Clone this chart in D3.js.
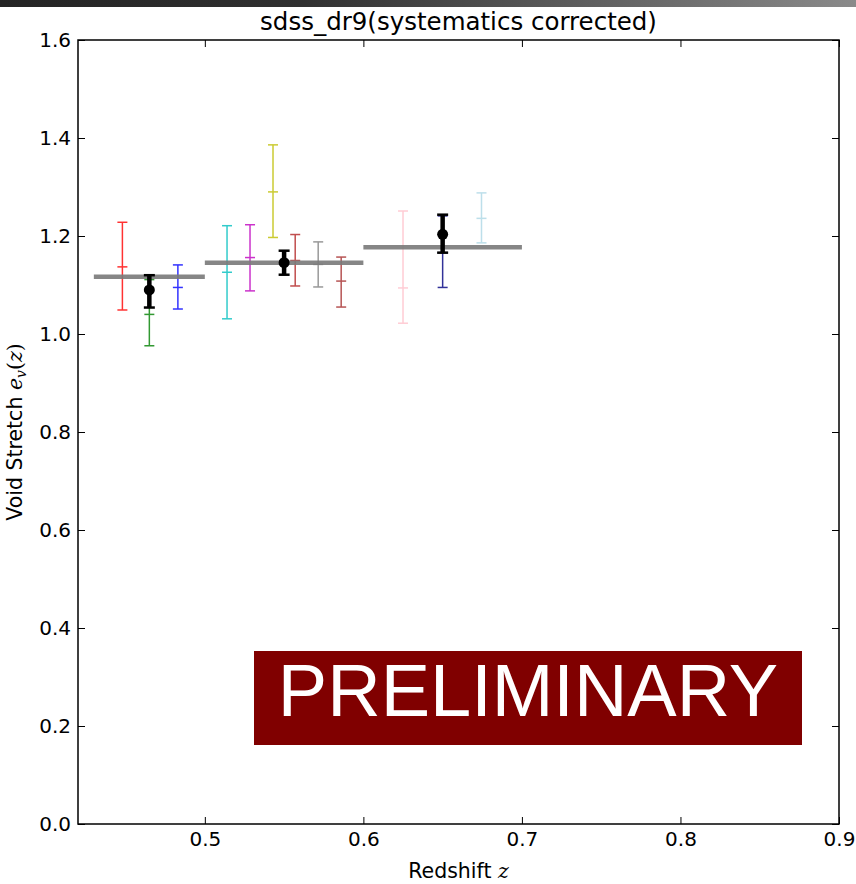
<!DOCTYPE html>
<html>
<head>
<meta charset="utf-8">
<script src="https://cdn.jsdelivr.net/npm/d3@7"></script>
<style>
  html, body { margin: 0; padding: 0; background: #fff; }
  svg { display: block; }
  .tick text { font-family: "DejaVu Sans", sans-serif; font-size: 20px; fill: #000; }
  .tick line { stroke: #000; stroke-width: 1; }
</style>
</head>
<body>
<svg class="chart"></svg>
<script>

// bins (gray steps)
const binLo = [0.43, 0.5, 0.6]
const binHi = [0.5, 0.6, 0.7]
const binVal = [1.117, 1.1455, 1.177]

// individual measurements
const measZ = [0.448, 0.465, 0.483, 0.514, 0.5285, 0.543, 0.557, 0.5715, 0.586, 0.625, 0.65, 0.6745]
const measVal = [1.137, 1.040, 1.095, 1.126, 1.156, 1.290, 1.150, 1.142, 1.108, 1.094, 1.166, 1.236]
const measLo = [1.049, 0.976, 1.051, 1.031, 1.088, 1.197, 1.098, 1.096, 1.055, 1.022, 1.095, 1.186]
const measHi = [1.228, 1.111, 1.141, 1.221, 1.223, 1.386, 1.203, 1.188, 1.157, 1.251, 1.241, 1.288]
const measColor = ['#ff0000', '#008000', '#0000ff', '#00bfbf', '#bf00bf', '#bfbf00',
                   '#b22222', '#808080', '#a52a2a', '#ffc0cb', '#000080', '#add8e6']

// combined (black)
const combZ = [0.465, 0.55, 0.65]
const combVal = [1.090, 1.1455, 1.2035]
const combLo = [1.054, 1.121, 1.166]
const combHi = [1.120, 1.170, 1.2435]

const xTicks = [0.5, 0.6, 0.7, 0.8, 0.9]
const yTicks = [0, 0.2, 0.4, 0.6, 0.8, 1.0, 1.2, 1.4, 1.6]

const width = 856
const height = 884
const margin = { top: 40, right: 17, bottom: 60, left: 78 }

const svg = d3.select('.chart')
    .attr('width', width)
    .attr('height', height)

// window strip at the top
const grad = svg.append('defs').append('linearGradient').attr('id', 'topbar')
grad.append('stop').attr('offset', '0%').attr('stop-color', '#242424')
grad.append('stop').attr('offset', '35%').attr('stop-color', '#303030')
grad.append('stop').attr('offset', '100%').attr('stop-color', '#8a8a8a')
svg.append('rect')
    .attr('x', 0).attr('y', 0)
    .attr('width', width).attr('height', 7)
    .attr('fill', 'url(#topbar)')

const x = d3.scaleLinear()
    .domain([0.42, 0.9])
    .range([margin.left, width - margin.right])

const y = d3.scaleLinear()
    .domain([0, 1.6])
    .range([height - margin.bottom, margin.top])

const fmt = d3.format('.1f')

// axes, ticks inward on all sides
svg.append('g')
    .attr('transform', `translate(0,${y(0)})`)
    .call(d3.axisBottom(x).tickValues(xTicks).tickFormat(fmt).tickSizeInner(-7).tickSizeOuter(0).tickPadding(8))
    .call(g => g.select('.domain').remove())

svg.append('g')
    .attr('transform', `translate(0,${y(1.6)})`)
    .call(d3.axisTop(x).tickValues(xTicks).tickFormat('').tickSizeInner(-7).tickSizeOuter(0))
    .call(g => g.select('.domain').remove())

svg.append('g')
    .attr('transform', `translate(${x(0.42)},0)`)
    .call(d3.axisLeft(y).tickValues(yTicks).tickFormat(fmt).tickSizeInner(-7).tickSizeOuter(0).tickPadding(7))
    .call(g => g.select('.domain').remove())

svg.append('g')
    .attr('transform', `translate(${x(0.9)},0)`)
    .call(d3.axisRight(y).tickValues(yTicks).tickFormat('').tickSizeInner(-7).tickSizeOuter(0))
    .call(g => g.select('.domain').remove())

svg.append('rect')
    .attr('x', x(0.42)).attr('y', y(1.6))
    .attr('width', x(0.9) - x(0.42)).attr('height', y(0) - y(1.6))
    .attr('fill', 'none')
    .attr('stroke', '#000')
    .attr('stroke-width', 1.5)

// colored error bars
const capW = 5
const meas = svg.append('g').attr('opacity', 0.8)
measZ.forEach((z, i) => {
    const g = meas.append('g').attr('stroke', measColor[i]).attr('stroke-width', 1.5)
    const cx = x(z)
    g.append('line').attr('x1', cx).attr('x2', cx).attr('y1', y(measLo[i])).attr('y2', y(measHi[i]))
    ;[measLo[i], measHi[i], measVal[i]].forEach(v => {
        g.append('line')
            .attr('x1', cx - capW).attr('x2', cx + capW)
            .attr('y1', y(v)).attr('y2', y(v))
    })
})

// bin steps
svg.append('g')
    .selectAll('line')
    .data(binVal)
    .enter()
    .append('line')
    .attr('x1', (d, i) => x(binLo[i]))
    .attr('x2', (d, i) => x(binHi[i]))
    .attr('y1', d => y(d))
    .attr('y2', d => y(d))
    .attr('stroke', '#7a7a7a')
    .attr('stroke-width', 4.5)
    .attr('opacity', 0.9)

// combined points
const comb = svg.append('g')
combZ.forEach((z, i) => {
    const cx = x(z)
    comb.append('line').attr('x1', cx).attr('x2', cx)
        .attr('y1', y(combLo[i])).attr('y2', y(combHi[i]))
        .attr('stroke', '#000').attr('stroke-width', 4.5)
    ;[combLo[i], combHi[i]].forEach(v => {
        comb.append('line')
            .attr('x1', cx - 5.5).attr('x2', cx + 5.5)
            .attr('y1', y(v)).attr('y2', y(v))
            .attr('stroke', '#000').attr('stroke-width', 2.5)
    })
    comb.append('circle').attr('cx', cx).attr('cy', y(combVal[i])).attr('r', 5.5).attr('fill', '#000')
})

// labels
svg.append('text')
    .attr('x', (x(0.42) + x(0.9)) / 2)
    .attr('y', 30)
    .attr('text-anchor', 'middle')
    .style('font-family', '"DejaVu Sans", sans-serif')
    .style('font-size', '24.5px')
    .text('sdss_dr9(systematics corrected)')

const xl = svg.append('text')
    .attr('x', (x(0.42) + x(0.9)) / 2)
    .attr('y', 878)
    .attr('text-anchor', 'middle')
    .style('font-family', '"DejaVu Sans", sans-serif')
    .style('font-size', '20.5px')
xl.append('tspan').text('Redshift ')
xl.append('tspan').style('font-family', '"DejaVu Serif", serif').style('font-style', 'italic').text('z')

const yl = svg.append('text')
    .attr('transform', `translate(22,${(y(0) + y(1.6)) / 2}) rotate(-90)`)
    .attr('text-anchor', 'middle')
    .style('font-family', '"DejaVu Sans", sans-serif')
    .style('font-size', '20.5px')
yl.append('tspan').text('Void Stretch ')
yl.append('tspan').style('font-family', '"DejaVu Serif", serif').style('font-style', 'italic').text('e')
yl.append('tspan').style('font-family', '"DejaVu Serif", serif').style('font-style', 'italic')
    .style('font-size', '14px').attr('dy', 4).text('v')
yl.append('tspan').style('font-family', '"DejaVu Serif", serif').attr('dy', -4).text('(')
yl.append('tspan').style('font-family', '"DejaVu Serif", serif').style('font-style', 'italic').text('z')
yl.append('tspan').style('font-family', '"DejaVu Serif", serif').text(')')

// preliminary banner
svg.append('rect')
    .attr('x', 254).attr('y', 651)
    .attr('width', 548).attr('height', 94)
    .attr('fill', '#800000')
svg.append('text')
    .attr('x', 528).attr('y', 716)
    .attr('text-anchor', 'middle')
    .attr('fill', '#fff')
    .style('font-family', '"Liberation Sans", Arial, sans-serif')
    .style('font-size', '74px')
    .text('PRELIMINARY')

</script>
</body>
</html>
